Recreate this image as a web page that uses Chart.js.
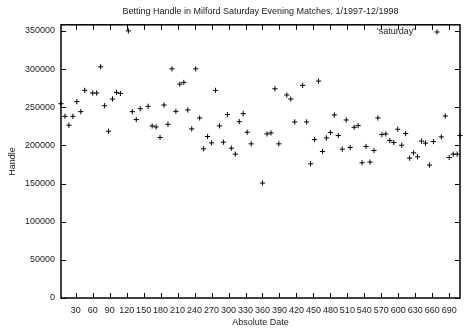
<!DOCTYPE html>
<html>
<head>
<meta charset="utf-8">
<script src="https://cdn.jsdelivr.net/npm/chart.js@4.4.1/dist/chart.umd.min.js"></script>
<style>
  html, body { margin: 0; padding: 0; background: #fff; }
</style>
</head>
<body>
<canvas id="myChart" width="469" height="328"></canvas>
<script>
(() => {
  'use strict'

  // tick labels
  const xTicks = [30, 60, 90, 120, 150, 180, 210, 240, 270, 300, 330, 360,
    390, 420, 450, 480, 510, 540, 570, 600, 630, 660, 690]
  const yTicks = [0, 50000, 100000, 150000, 200000, 250000, 300000, 350000]

  // absolute date of each match
  const days = [4, 11, 18, 25, 32, 39, 46, 60, 67, 74, 81, 88, 95, 102, 109,
    123, 130, 137, 144, 158, 165, 172, 179, 186, 193, 200, 207, 214, 221, 228,
    235, 242, 249, 256, 263, 270, 277, 284, 291, 298, 305, 312, 319, 326, 333,
    340, 360, 368, 375, 382, 389, 403, 410, 417, 431, 438, 445, 452, 459, 466,
    473, 480, 487, 494, 501, 508, 515, 522, 529, 536, 543, 550, 557, 564, 571,
    578, 585, 592, 599, 606, 613, 620, 627, 634, 641, 648, 655, 662, 676, 683,
    690, 697, 704, 709]

  // betting handle
  const handle = [254600, 238100, 226400, 238100, 257300, 244200, 272100,
    268600, 268600, 303000, 252000, 218500, 260700, 269400, 268100,
    350000, 244200, 233800, 248100, 251200, 225500, 224200, 210300, 252900,
    227700, 300300, 244600, 280300, 282500, 246400, 221600, 300300, 235900,
    195500, 211600, 203300, 272100, 225500, 204200, 240300, 196300, 188500,
    231100, 241600, 217200, 202000, 150600, 215000, 216300, 274200, 202000,
    266000, 260700, 230700, 278600, 230700, 175900, 207600, 284200, 192000,
    209800, 216800, 239900, 212900, 195000, 233300, 197200, 223700, 225900,
    177200, 198500, 178100, 193300, 235900, 214200, 215000, 206300, 203700,
    221100, 200200, 215500, 183300, 190200, 185000, 205500, 202900, 174100,
    205000, 211100, 238500, 184100, 188500, 188500, 212900]

  const seriesName = "'saturday'"
  const font = { family: "'Liberation Sans', Arial, sans-serif", size: 9 }
  const ink = '#1a1a1a'

  // box round the plot, inward ticks, gnuplot-style key
  const frame = {
    id: 'frame',
    afterDatasetsDraw(chart) {
      const { ctx, chartArea: a, scales: { x, y } } = chart
      ctx.save()
      ctx.strokeStyle = '#000'
      ctx.lineWidth = 1
      ctx.beginPath()
      xTicks.forEach(v => {
        const px = Math.round(x.getPixelForValue(v)) + 0.5
        ctx.moveTo(px, a.bottom); ctx.lineTo(px, a.bottom - 5)
        ctx.moveTo(px, a.top); ctx.lineTo(px, a.top + 5)
      })
      yTicks.forEach(v => {
        const py = Math.round(y.getPixelForValue(v)) + 0.5
        ctx.moveTo(a.left, py); ctx.lineTo(a.left + 5, py)
        ctx.moveTo(a.right, py); ctx.lineTo(a.right - 5, py)
      })
      ctx.stroke()
      ctx.lineWidth = 1.5
      ctx.strokeRect(a.left, a.top, a.right - a.left, a.bottom - a.top)

      // key
      ctx.fillStyle = ink
      ctx.font = '9px ' + font.family
      ctx.textAlign = 'right'
      ctx.textBaseline = 'middle'
      ctx.fillText(seriesName, 415, 32)
      ctx.lineWidth = 1
      ctx.beginPath()
      ctx.moveTo(434.5, 32); ctx.lineTo(439.5, 32)
      ctx.moveTo(437, 29.5); ctx.lineTo(437, 34.5)
      ctx.stroke()
      ctx.restore()
    }
  }

  const ctx = document.getElementById('myChart')

  const myChart = new Chart(ctx, {
    type: 'scatter',
    data: {
      datasets: [{
        label: seriesName,
        data: days.map((d, i) => ({ x: d, y: handle[i] })),
        pointStyle: 'cross',
        pointRadius: 2.6,
        pointBorderWidth: 1,
        borderColor: '#000',
        backgroundColor: '#000',
        clip: false
      }]
    },
    options: {
      responsive: false,
      animation: false,
      layout: { padding: { left: 0, right: 9, top: 0, bottom: 0 } },
      plugins: {
        legend: { display: false },
        tooltip: { enabled: false },
        title: {
          display: true,
          fullSize: false,
          text: 'Betting Handle in Milford Saturday Evening Matches, 1/1997-12/1998',
          color: ink,
          font: { ...font, weight: 'normal' },
          padding: { top: 6, bottom: 8 }
        }
      },
      scales: {
        x: {
          type: 'linear',
          min: 4,
          max: 709,
          grid: { display: false, drawTicks: false },
          border: { display: false },
          afterBuildTicks: s => { s.ticks = xTicks.map(v => ({ value: v })) },
          afterFit: s => { s.height = 30 },
          ticks: {
            autoSkip: false,
            maxRotation: 0,
            padding: 7,
            color: ink,
            font: font,
            callback: v => String(v)
          },
          title: {
            display: true,
            text: 'Absolute Date',
            color: ink,
            font: font,
            padding: { top: 0, bottom: 0 }
          }
        },
        y: {
          min: 0,
          max: 358000,
          grid: { display: false, drawTicks: false },
          border: { display: false },
          afterBuildTicks: s => { s.ticks = yTicks.map(v => ({ value: v })) },
          afterFit: s => { s.width = 61 },
          ticks: {
            padding: 6,
            color: ink,
            font: font,
            callback: v => String(v)
          },
          title: {
            display: true,
            text: 'Handle',
            color: ink,
            font: font,
            padding: { top: 7, bottom: 0 }
          }
        }
      }
    },
    plugins: [frame]
  })
})()
</script>
</body>
</html>
